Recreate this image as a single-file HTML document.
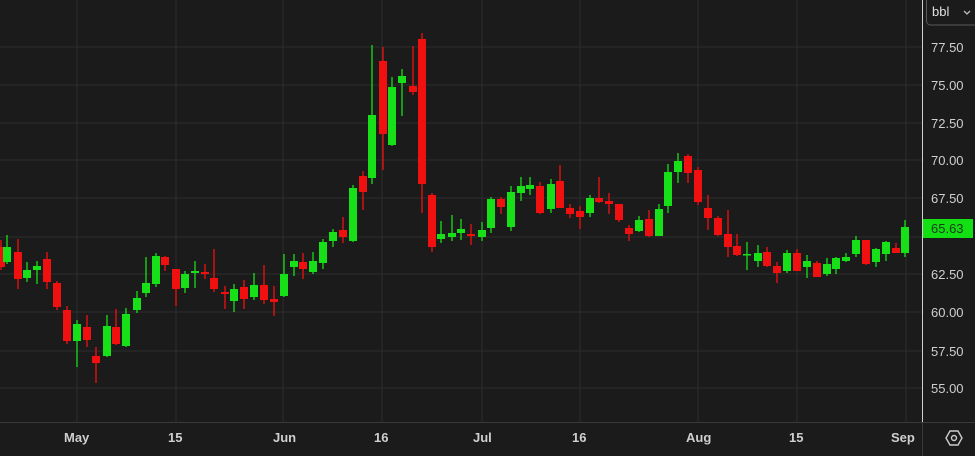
<!DOCTYPE html>
<html><head><meta charset="utf-8"><style>
html,body{margin:0;padding:0;background:#1b1b1b;width:975px;height:456px;overflow:hidden}
svg{display:block}
text{font-family:"Liberation Sans",sans-serif;font-size:13px;fill:#cfcfcf}
.g line{stroke:#18e018;stroke-width:1.3}.g rect{fill:#18e018}
.r line{stroke:#f01010;stroke-width:1.3}.r rect{fill:#f01010}
</style></head><body>
<svg width="975" height="456" viewBox="0 0 975 456" xmlns="http://www.w3.org/2000/svg">
<rect width="975" height="456" fill="#1b1b1b"/>
<g stroke="#2c2c2c" stroke-width="1">
<line x1="0" x2="922" y1="47" y2="47"/><line x1="0" x2="922" y1="85" y2="85"/><line x1="0" x2="922" y1="123" y2="123"/><line x1="0" x2="922" y1="160" y2="160"/><line x1="0" x2="922" y1="198" y2="198"/><line x1="0" x2="922" y1="237" y2="237"/><line x1="0" x2="922" y1="274" y2="274"/><line x1="0" x2="922" y1="312" y2="312"/><line x1="0" x2="922" y1="351" y2="351"/><line x1="0" x2="922" y1="388" y2="388"/>
<line y1="0" y2="422" x1="77" x2="77"/><line y1="0" y2="422" x1="176" x2="176"/><line y1="0" y2="422" x1="283" x2="283"/><line y1="0" y2="422" x1="382" x2="382"/><line y1="0" y2="422" x1="482" x2="482"/><line y1="0" y2="422" x1="580" x2="580"/><line y1="0" y2="422" x1="698" x2="698"/><line y1="0" y2="422" x1="797" x2="797"/><line y1="0" y2="422" x1="906" x2="906"/>
</g>
<line x1="0" x2="975" y1="422.5" y2="422.5" stroke="#3a3a3a"/>
<line x1="922.5" x2="922.5" y1="0" y2="456" stroke="#d0d0d0"/>
<line x1="922.5" x2="922.5" y1="422" y2="456" stroke="#3a3a3a"/>
<g class="r"><line x1="1" x2="1" y1="240" y2="270"/><rect x="-3" y="247" width="8" height="20"/></g>
<g class="g"><line x1="7" x2="7" y1="235" y2="264"/><rect x="3" y="247" width="8" height="15"/></g>
<g class="r"><line x1="18" x2="18" y1="239" y2="289"/><rect x="14" y="252" width="8" height="27"/></g>
<g class="g"><line x1="27" x2="27" y1="262" y2="282"/><rect x="23" y="270" width="8" height="8"/></g>
<g class="g"><line x1="37" x2="37" y1="261" y2="284"/><rect x="33" y="266" width="8" height="4"/></g>
<g class="r"><line x1="47" x2="47" y1="252" y2="289"/><rect x="43" y="259" width="8" height="23"/></g>
<g class="r"><line x1="57" x2="57" y1="281" y2="310"/><rect x="53" y="283" width="8" height="24"/></g>
<g class="r"><line x1="67" x2="67" y1="306" y2="344"/><rect x="63" y="310" width="8" height="31"/></g>
<g class="g"><line x1="77" x2="77" y1="320" y2="367"/><rect x="73" y="324" width="8" height="17"/></g>
<g class="r"><line x1="87" x2="87" y1="315" y2="347"/><rect x="83" y="327" width="8" height="13"/></g>
<g class="r"><line x1="96" x2="96" y1="347" y2="383"/><rect x="92" y="356" width="8" height="7"/></g>
<g class="g"><line x1="107" x2="107" y1="315" y2="357"/><rect x="103" y="326" width="8" height="30"/></g>
<g class="r"><line x1="116" x2="116" y1="309" y2="345"/><rect x="112" y="327" width="8" height="17"/></g>
<g class="g"><line x1="126" x2="126" y1="308" y2="347"/><rect x="122" y="314" width="8" height="32"/></g>
<g class="g"><line x1="137" x2="137" y1="291" y2="313"/><rect x="133" y="298" width="8" height="12"/></g>
<g class="g"><line x1="146" x2="146" y1="257" y2="297"/><rect x="142" y="283" width="8" height="10"/></g>
<g class="g"><line x1="156" x2="156" y1="253" y2="287"/><rect x="152" y="256" width="8" height="28"/></g>
<g class="r"><line x1="165" x2="165" y1="256" y2="271"/><rect x="161" y="257" width="8" height="8"/></g>
<g class="r"><line x1="176" x2="176" y1="269" y2="306"/><rect x="172" y="269" width="8" height="20"/></g>
<g class="g"><line x1="185" x2="185" y1="271" y2="293"/><rect x="181" y="274" width="8" height="14"/></g>
<g class="g"><line x1="195" x2="195" y1="261" y2="288"/><rect x="191" y="271" width="8" height="2"/></g>
<g class="r"><line x1="205" x2="205" y1="264" y2="279"/><rect x="201" y="272" width="8" height="2"/></g>
<g class="r"><line x1="214" x2="214" y1="249" y2="292"/><rect x="210" y="278" width="8" height="11"/></g>
<g class="r"><line x1="225" x2="225" y1="286" y2="309"/><rect x="221" y="292" width="8" height="2"/></g>
<g class="g"><line x1="234" x2="234" y1="284" y2="312"/><rect x="230" y="289" width="8" height="12"/></g>
<g class="r"><line x1="244" x2="244" y1="280" y2="309"/><rect x="240" y="287" width="8" height="12"/></g>
<g class="g"><line x1="254" x2="254" y1="273" y2="300"/><rect x="250" y="285" width="8" height="12"/></g>
<g class="r"><line x1="264" x2="264" y1="265" y2="304"/><rect x="260" y="285" width="8" height="15"/></g>
<g class="r"><line x1="274" x2="274" y1="286" y2="316"/><rect x="270" y="299" width="8" height="3"/></g>
<g class="g"><line x1="284" x2="284" y1="254" y2="297"/><rect x="280" y="274" width="8" height="22"/></g>
<g class="g"><line x1="294" x2="294" y1="254" y2="276"/><rect x="290" y="261" width="8" height="6"/></g>
<g class="r"><line x1="303" x2="303" y1="253" y2="279"/><rect x="299" y="262" width="8" height="7"/></g>
<g class="g"><line x1="313" x2="313" y1="252" y2="274"/><rect x="309" y="261" width="8" height="11"/></g>
<g class="g"><line x1="323" x2="323" y1="239" y2="269"/><rect x="319" y="242" width="8" height="21"/></g>
<g class="g"><line x1="333" x2="333" y1="229" y2="247"/><rect x="329" y="232" width="8" height="9"/></g>
<g class="r"><line x1="343" x2="343" y1="217" y2="243"/><rect x="339" y="230" width="8" height="7"/></g>
<g class="g"><line x1="353" x2="353" y1="185" y2="242"/><rect x="349" y="188" width="8" height="53"/></g>
<g class="r"><line x1="363" x2="363" y1="171" y2="210"/><rect x="359" y="176" width="8" height="16"/></g>
<g class="g"><line x1="372" x2="372" y1="45" y2="184"/><rect x="368" y="115" width="8" height="63"/></g>
<g class="r"><line x1="383" x2="383" y1="47" y2="170"/><rect x="379" y="61" width="8" height="73"/></g>
<g class="g"><line x1="392" x2="392" y1="77" y2="146"/><rect x="388" y="87" width="8" height="58"/></g>
<g class="g"><line x1="402" x2="402" y1="69" y2="116"/><rect x="398" y="76" width="8" height="7"/></g>
<g class="r"><line x1="413" x2="413" y1="46" y2="95"/><rect x="409" y="86" width="8" height="6"/></g>
<g class="r"><line x1="422" x2="422" y1="33" y2="213"/><rect x="418" y="39" width="8" height="145"/></g>
<g class="r"><line x1="432" x2="432" y1="193" y2="252"/><rect x="428" y="195" width="8" height="52"/></g>
<g class="g"><line x1="441" x2="441" y1="221" y2="243"/><rect x="437" y="234" width="8" height="5"/></g>
<g class="g"><line x1="452" x2="452" y1="215" y2="241"/><rect x="448" y="233" width="8" height="4"/></g>
<g class="g"><line x1="461" x2="461" y1="219" y2="240"/><rect x="457" y="229" width="8" height="4"/></g>
<g class="r"><line x1="471" x2="471" y1="224" y2="245"/><rect x="467" y="234" width="8" height="2"/></g>
<g class="g"><line x1="482" x2="482" y1="222" y2="241"/><rect x="478" y="230" width="8" height="7"/></g>
<g class="g"><line x1="491" x2="491" y1="197" y2="233"/><rect x="487" y="199" width="8" height="29"/></g>
<g class="r"><line x1="501" x2="501" y1="197" y2="214"/><rect x="497" y="199" width="8" height="8"/></g>
<g class="g"><line x1="511" x2="511" y1="186" y2="231"/><rect x="507" y="192" width="8" height="35"/></g>
<g class="g"><line x1="521" x2="521" y1="177" y2="201"/><rect x="517" y="186" width="8" height="7"/></g>
<g class="g"><line x1="530" x2="530" y1="177" y2="195"/><rect x="526" y="185" width="8" height="4"/></g>
<g class="r"><line x1="540" x2="540" y1="182" y2="214"/><rect x="536" y="186" width="8" height="27"/></g>
<g class="g"><line x1="551" x2="551" y1="179" y2="213"/><rect x="547" y="184" width="8" height="25"/></g>
<g class="r"><line x1="560" x2="560" y1="165" y2="208"/><rect x="556" y="181" width="8" height="27"/></g>
<g class="r"><line x1="570" x2="570" y1="204" y2="218"/><rect x="566" y="208" width="8" height="6"/></g>
<g class="r"><line x1="580" x2="580" y1="206" y2="229"/><rect x="576" y="211" width="8" height="6"/></g>
<g class="g"><line x1="590" x2="590" y1="195" y2="217"/><rect x="586" y="198" width="8" height="15"/></g>
<g class="r"><line x1="599" x2="599" y1="177" y2="203"/><rect x="595" y="198" width="8" height="4"/></g>
<g class="r"><line x1="609" x2="609" y1="193" y2="214"/><rect x="605" y="201" width="8" height="3"/></g>
<g class="r"><line x1="619" x2="619" y1="204" y2="222"/><rect x="615" y="204" width="8" height="16"/></g>
<g class="r"><line x1="629" x2="629" y1="225" y2="241"/><rect x="625" y="228" width="8" height="6"/></g>
<g class="g"><line x1="639" x2="639" y1="216" y2="232"/><rect x="635" y="220" width="8" height="11"/></g>
<g class="r"><line x1="649" x2="649" y1="210" y2="237"/><rect x="645" y="219" width="8" height="17"/></g>
<g class="g"><line x1="659" x2="659" y1="204" y2="236"/><rect x="655" y="209" width="8" height="27"/></g>
<g class="g"><line x1="668" x2="668" y1="164" y2="213"/><rect x="664" y="172" width="8" height="34"/></g>
<g class="g"><line x1="678" x2="678" y1="153" y2="183"/><rect x="674" y="161" width="8" height="11"/></g>
<g class="r"><line x1="688" x2="688" y1="154" y2="183"/><rect x="684" y="156" width="8" height="17"/></g>
<g class="r"><line x1="698" x2="698" y1="167" y2="205"/><rect x="694" y="170" width="8" height="32"/></g>
<g class="r"><line x1="708" x2="708" y1="195" y2="230"/><rect x="704" y="208" width="8" height="10"/></g>
<g class="r"><line x1="718" x2="718" y1="216" y2="236"/><rect x="714" y="218" width="8" height="17"/></g>
<g class="r"><line x1="728" x2="728" y1="210" y2="257"/><rect x="724" y="234" width="8" height="13"/></g>
<g class="r"><line x1="737" x2="737" y1="234" y2="256"/><rect x="733" y="246" width="8" height="9"/></g>
<g class="g"><line x1="747" x2="747" y1="242" y2="270"/><rect x="743" y="254" width="8" height="1.5"/></g>
<g class="g"><line x1="758" x2="758" y1="245" y2="267"/><rect x="754" y="253" width="8" height="8"/></g>
<g class="r"><line x1="767" x2="767" y1="247" y2="267"/><rect x="763" y="252" width="8" height="14"/></g>
<g class="r"><line x1="777" x2="777" y1="262" y2="283"/><rect x="773" y="266" width="8" height="7"/></g>
<g class="g"><line x1="787" x2="787" y1="250" y2="273"/><rect x="783" y="253" width="8" height="18"/></g>
<g class="r"><line x1="797" x2="797" y1="249" y2="271"/><rect x="793" y="253" width="8" height="18"/></g>
<g class="g"><line x1="807" x2="807" y1="255" y2="278"/><rect x="803" y="261" width="8" height="6"/></g>
<g class="r"><line x1="817" x2="817" y1="261" y2="277"/><rect x="813" y="263" width="8" height="14"/></g>
<g class="g"><line x1="827" x2="827" y1="258" y2="276"/><rect x="823" y="264" width="8" height="10"/></g>
<g class="g"><line x1="836" x2="836" y1="257" y2="274"/><rect x="832" y="258" width="8" height="11"/></g>
<g class="g"><line x1="846" x2="846" y1="253" y2="262"/><rect x="842" y="257" width="8" height="4"/></g>
<g class="g"><line x1="856" x2="856" y1="236" y2="257"/><rect x="852" y="240" width="8" height="14"/></g>
<g class="r"><line x1="866" x2="866" y1="240" y2="265"/><rect x="862" y="240" width="8" height="24"/></g>
<g class="g"><line x1="876" x2="876" y1="248" y2="267"/><rect x="872" y="249" width="8" height="13"/></g>
<g class="g"><line x1="886" x2="886" y1="241" y2="261"/><rect x="882" y="242" width="8" height="12"/></g>
<g class="r"><line x1="896" x2="896" y1="243" y2="253"/><rect x="892" y="248" width="8" height="5"/></g>
<g class="g"><line x1="905" x2="905" y1="220" y2="257"/><rect x="901" y="227" width="8" height="26"/></g>
<g>
<text x="931" y="52">77.50</text><text x="931" y="90">75.00</text><text x="931" y="128">72.50</text><text x="931" y="165">70.00</text><text x="931" y="203">67.50</text><text x="931" y="279">62.50</text><text x="931" y="317">60.00</text><text x="931" y="356">57.50</text><text x="931" y="393">55.00</text>
</g>
<rect x="923" y="219" width="50" height="19" fill="#13e013"/>
<text x="931" y="233" style="fill:#1a3a1a">65.63</text>
<rect x="926.5" y="-4" width="52" height="29" rx="4" fill="#1b1b1b" stroke="#5a5a5a"/>
<text x="932" y="16" style="fill:#e0e0e0">bbl</text>
<path d="M964 11 l3 3 l3 -3" fill="none" stroke="#bbb" stroke-width="1.3"/>
<g style="font-weight:bold">
<text x="64" y="442">May</text><text x="168" y="442">15</text><text x="273" y="442">Jun</text><text x="374" y="442">16</text><text x="473" y="442">Jul</text><text x="572" y="442">16</text><text x="686" y="442">Aug</text><text x="789" y="442">15</text><text x="891" y="442">Sep</text>
</g>
<polygon points="946,438 950,431 958,431 962,438 958,445 950,445" fill="none" stroke="#ccc" stroke-width="1.4"/>
<circle cx="954" cy="438" r="2.5" fill="none" stroke="#ccc" stroke-width="1.4"/>
</svg>
</body></html>
